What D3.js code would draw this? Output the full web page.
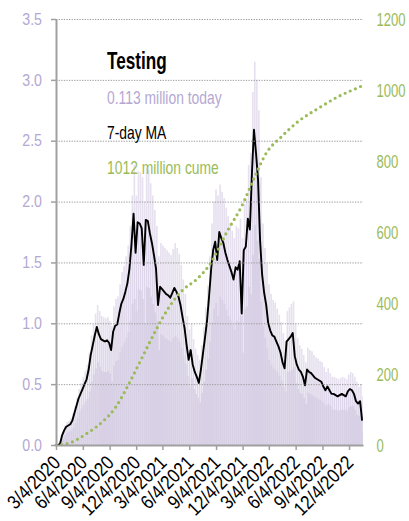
<!DOCTYPE html>
<html>
<head>
<meta charset="utf-8">
<script src="https://cdn.jsdelivr.net/npm/d3@7"></script>
<style>
  html, body { margin: 0; padding: 0; background: #fff; }
  svg { display: block; }
  text { font-family: "Liberation Sans", Arial, sans-serif; }
</style>
</head>
<body>
<svg id="chart" width="409" height="521" font-family="Liberation Sans"></svg>
<script>
// ---------- DATA ----------
const firstWeek = "2020-03-04";   // weekly categories start here, one value per week
// 7-day moving average of daily tests (millions), sampled weekly
const weeklyMA = [
  0, 0, 0.01, 0.08, 0.12, 0.15, 0.16, 0.17, 0.20, 0.26,
  0.32, 0.38, 0.42, 0.46, 0.50, 0.54, 0.62, 0.74, 0.82, 0.90,
  0.97, 0.91, 0.87, 0.86, 0.85, 0.86, 0.84, 0.78, 0.93, 0.98,
  0.99, 1.08, 1.16, 1.20, 1.26, 1.33, 1.45, 1.65, 1.90, 1.58,
  1.83, 1.82, 1.78, 1.48, 1.85, 1.84, 1.74, 1.66, 1.56, 1.45,
  1.15, 1.30, 1.28, 1.26, 1.24, 1.23, 1.21, 1.25, 1.29, 1.26,
  1.22, 1.15, 1.05, 0.96, 0.82, 0.70, 0.78, 0.66, 0.60, 0.56,
  0.51, 0.62, 0.75, 0.88, 1.02, 1.22, 1.44, 1.60, 1.67, 1.52,
  1.75, 1.70, 1.66, 1.58, 1.52, 1.47, 1.42, 1.36, 1.46, 1.44,
  1.51, 1.08, 1.60, 1.63, 1.86, 1.77, 2.23, 2.59, 2.40, 2.18,
  1.68, 1.40, 1.25, 1.15, 1.00, 0.94, 0.90, 0.89, 0.85, 0.81,
  0.76, 0.68, 0.63, 0.85, 0.87, 0.89, 0.92, 0.73, 0.66, 0.62,
  0.60, 0.56, 0.49, 0.62, 0.60, 0.59, 0.57, 0.55, 0.54, 0.53,
  0.52, 0.48, 0.45, 0.48, 0.45, 0.42, 0.42, 0.41, 0.40, 0.41,
  0.42, 0.41, 0.40, 0.44, 0.46, 0.45, 0.42, 0.36, 0.34, 0.36,
  0.20
];
// highest daily tests in each week (millions)
const weeklyHigh = [
  0, 0.01, 0.03, 0.11, 0.16, 0.19, 0.20, 0.22, 0.26, 0.32,
  0.39, 0.46, 0.51, 0.56, 0.61, 0.66, 0.76, 0.90, 0.99, 1.08,
  1.15, 1.10, 1.06, 1.05, 1.04, 1.05, 1.02, 0.98, 1.14, 1.20,
  1.22, 1.32, 1.42, 1.47, 1.55, 1.64, 1.80, 2.05, 2.30, 2.05,
  2.25, 2.24, 2.20, 2.00, 2.28, 2.26, 2.15, 2.05, 1.93, 1.80,
  1.55, 1.66, 1.64, 1.62, 1.60, 1.58, 1.56, 1.61, 1.66, 1.62,
  1.57, 1.48, 1.36, 1.24, 1.06, 0.95, 1.00, 0.87, 0.79, 0.74,
  0.70, 0.82, 0.97, 1.13, 1.31, 1.55, 1.82, 2.00, 2.10, 2.05,
  2.14, 2.08, 2.03, 1.95, 1.88, 1.82, 1.76, 1.70, 1.80, 1.78,
  1.86, 1.70, 1.98, 2.02, 2.30, 2.40, 2.90, 3.15, 3.00, 2.75,
  2.20, 1.82, 1.62, 1.49, 1.32, 1.24, 1.19, 1.17, 1.12, 1.07,
  1.01, 0.92, 0.86, 1.10, 1.13, 1.16, 1.18, 1.00, 0.88, 0.82,
  0.79, 0.74, 0.68, 0.80, 0.78, 0.77, 0.74, 0.72, 0.71, 0.69,
  0.68, 0.64, 0.60, 0.63, 0.59, 0.56, 0.56, 0.55, 0.54, 0.55,
  0.56, 0.55, 0.54, 0.58, 0.60, 0.59, 0.56, 0.52, 0.48, 0.50,
  0.40
];
// lowest (weekend) daily tests in each week (millions)
const weeklyLow = [
  0, 0, 0.01, 0.05, 0.08, 0.10, 0.11, 0.12, 0.14, 0.18,
  0.22, 0.27, 0.30, 0.33, 0.36, 0.38, 0.44, 0.52, 0.58, 0.63,
  0.68, 0.64, 0.61, 0.60, 0.60, 0.61, 0.59, 0.52, 0.65, 0.69,
  0.70, 0.76, 0.81, 0.84, 0.88, 0.93, 1.02, 1.16, 1.20, 1.10,
  1.28, 1.27, 1.20, 1.00, 1.30, 1.29, 1.22, 1.16, 1.09, 1.02,
  0.78, 0.91, 0.90, 0.88, 0.87, 0.86, 0.85, 0.88, 0.90, 0.88,
  0.85, 0.80, 0.73, 0.67, 0.57, 0.48, 0.55, 0.46, 0.42, 0.39,
  0.35, 0.43, 0.52, 0.62, 0.71, 0.85, 1.01, 1.12, 1.17, 1.06,
  1.22, 1.19, 1.16, 1.11, 1.06, 1.03, 0.99, 0.95, 1.02, 1.01,
  1.06, 0.76, 1.12, 1.14, 1.30, 1.24, 1.56, 1.81, 1.68, 1.53,
  1.18, 0.98, 0.88, 0.80, 0.70, 0.66, 0.63, 0.62, 0.60, 0.57,
  0.53, 0.48, 0.44, 0.60, 0.61, 0.62, 0.64, 0.51, 0.46, 0.43,
  0.42, 0.39, 0.34, 0.43, 0.42, 0.41, 0.40, 0.39, 0.38, 0.37,
  0.36, 0.34, 0.32, 0.34, 0.32, 0.29, 0.29, 0.29, 0.28, 0.29,
  0.29, 0.29, 0.28, 0.31, 0.32, 0.32, 0.29, 0.25, 0.24, 0.25,
  0.11
];
// cumulative tests (millions), read at these dates
const cumeDates = ["2020-03-04","2020-04-07","2020-06-26","2020-08-11","2020-09-26",
  "2020-11-10","2020-12-26","2021-02-10","2021-03-28","2021-05-13","2021-06-27",
  "2021-08-12","2021-10-15","2021-11-30","2022-01-15","2022-02-23","2022-04-16",
  "2022-06-12","2022-08-20","2022-10-27","2023-01-10","2023-01-18"];
const cumeValues = [0, 3, 37, 66, 108, 174, 249, 324, 390, 437, 465,
  507, 606, 671, 756, 822, 868, 911, 948, 981, 1009, 1012];

const xTickLabels = ["3/4/2020","6/4/2020","9/4/2020","12/4/2020","3/4/2021","6/4/2021",
  "9/4/2021","12/4/2021","3/4/2022","6/4/2022","9/4/2022","12/4/2022"];
const leftTicks = [0, 0.5, 1.0, 1.5, 2.0, 2.5, 3.0, 3.5];
const rightTicks = [0, 200, 400, 600, 800, 1000, 1200];
const legendLines = ["0.113 million today", "7-day MA", "1012 million cume"];
const titleText = "Testing";

// ---------- LAYOUT ----------
const svg = d3.select("#chart");
const mLeft = 56, mRight = 363, mTop = 19, mBottom = 445;
const purple = "#b4a8d3", green = "#9bbb59", gray = "#a0a0a0";

// condense text horizontally (the original uses a condensed face)
function squeeze(sel, k) {
  sel.each(function () {
    const w = this.getComputedTextLength();
    this.setAttribute("textLength", (w * k).toFixed(2));
    this.setAttribute("lengthAdjust", "spacingAndGlyphs");
  });
}

const parseISO = d3.timeParse("%Y-%m-%d");
const parseMDY = d3.timeParse("%m/%d/%Y");
const start = parseISO(firstWeek);
const endDate = parseISO("2023-01-21");

const x = d3.scaleTime().domain([start, endDate]).range([mLeft, mRight]);
const yL = d3.scaleLinear().domain([0, 3.5]).range([mBottom, mTop]);
const yR = d3.scaleLinear().domain([0, 1200]).range([mBottom, mTop]);

const weeks = weeklyMA.map((v, i) => ({
  d0: d3.timeDay.offset(start, 7 * i),
  d1: d3.timeDay.offset(start, 7 * (i + 1)),
  ma: v, hi: weeklyHigh[i], lo: weeklyLow[i]
}));

svg.append("defs").append("clipPath").attr("id", "plotclip")
  .append("rect").attr("x", mLeft).attr("y", 0).attr("width", mRight - mLeft).attr("height", mBottom);

const plot = svg.append("g").attr("clip-path", "url(#plotclip)");

plot.append("g").selectAll("rect").data(weeks).join("rect")
  .attr("x", d => x(d.d0))
  .attr("width", d => Math.max(0, x(d.d1) - x(d.d0) - 0.4))
  .attr("y", d => yL(d.hi))
  .attr("height", d => yL(0) - yL(d.hi))
  .attr("fill", "#e6e0ef");
plot.append("g").selectAll("rect").data(weeks).join("rect")
  .attr("x", d => x(d.d0))
  .attr("width", d => x(d.d1) - x(d.d0))
  .attr("y", d => yL(d.lo))
  .attr("height", d => yL(0) - yL(d.lo))
  .attr("fill", "#d8d0e5");
plot.append("g").selectAll("rect").data(weeks).join("rect")
  .attr("x", d => x(d.d0) + 0.3)
  .attr("width", d => Math.max(0, x(d.d1) - x(d.d0) - 1))
  .attr("y", d => yL(d.ma))
  .attr("height", d => yL(d.lo) - yL(d.ma))
  .attr("fill", "#ddd5e9");

// gridlines
svg.append("g").selectAll("line").data(leftTicks.filter(t => t > 0)).join("line")
  .attr("x1", mLeft).attr("x2", mRight)
  .attr("y1", d => yL(d) + 0.5).attr("y2", d => yL(d) + 0.5)
  .attr("stroke", "#9a9a9a").attr("stroke-width", 1).attr("stroke-dasharray", "1.3,1.3");

// cumulative dotted line
const cume = cumeDates.map((d, i) => ({ date: parseISO(d), v: cumeValues[i] }));
svg.append("path").datum(cume)
  .attr("d", d3.line().x(d => x(d.date)).y(d => yR(d.v)).curve(d3.curveMonotoneX))
  .attr("fill", "none").attr("stroke", green).attr("stroke-width", 3.2)
  .attr("stroke-linecap", "round").attr("stroke-dasharray", "0,5.6");

// 7-day MA line
plot.append("path").datum(weeks)
  .attr("d", d3.line().x(d => x(d.d0)).y(d => yL(d.ma)))
  .attr("fill", "none").attr("stroke", "#000").attr("stroke-width", 1.9)
  .attr("stroke-linejoin", "round");

// left axis
const gL = svg.append("g").attr("transform", `translate(${mLeft},0)`)
  .call(d3.axisLeft(yL).tickValues(leftTicks).tickFormat(d3.format(".1f"))
    .tickSize(5).tickSizeOuter(0).tickPadding(9));
gL.attr("font-family", null).attr("font-size", null);
gL.select(".domain").attr("stroke", gray).attr("stroke-width", 2);
gL.selectAll(".tick line").attr("stroke", gray).attr("stroke-width", 1.5);
gL.selectAll("text").attr("fill", purple).attr("font-size", 16.5).call(squeeze, 0.86);

// right axis (labels condensed with a scale transform)
const gR = svg.append("g").attr("transform", `translate(${mRight},0)`)
  .call(d3.axisRight(yR).tickValues(rightTicks).tickFormat(d3.format("d"))
    .tickSize(0).tickPadding(13));
gR.attr("font-family", null).attr("font-size", null);
gR.select(".domain").remove();
gR.selectAll("text").attr("fill", green).attr("font-size", 19)
  .attr("x", 0).attr("transform", "translate(13.5,0) scale(0.69,1)");

// bottom axis
const tickDates = xTickLabels.map(parseMDY);
const gB = svg.append("g").attr("transform", `translate(0,${mBottom})`)
  .call(d3.axisBottom(x).tickValues(tickDates).tickFormat((d, i) => xTickLabels[i])
    .tickSize(5).tickSizeOuter(0));
gB.attr("font-family", null).attr("font-size", null);
gB.select(".domain").attr("stroke", gray).attr("stroke-width", 2);
gB.selectAll(".tick line").attr("stroke", gray).attr("stroke-width", 1.5);
gB.selectAll("text")
  .attr("fill", "#000").attr("font-size", 19.5)
  .attr("text-anchor", "end")
  .attr("transform", "translate(5,19) rotate(-45)")
  .attr("x", 0).attr("y", 0).attr("dy", 0)
  .call(squeeze, 0.86);

// title & legend
svg.append("text").attr("x", 107).attr("y", 69).text(titleText)
  .attr("font-size", 24.5).attr("font-weight", "bold").attr("fill", "#000")
  .call(squeeze, 0.70);
const legendColors = [purple, "#000", green];
svg.append("g").selectAll("text").data(legendLines).join("text")
  .attr("x", 107).attr("y", (d, i) => 103.5 + i * 35)
  .attr("font-size", 18.5).attr("fill", (d, i) => legendColors[i])
  .text(d => d)
  .call(squeeze, 0.75);
</script>
</body>
</html>
